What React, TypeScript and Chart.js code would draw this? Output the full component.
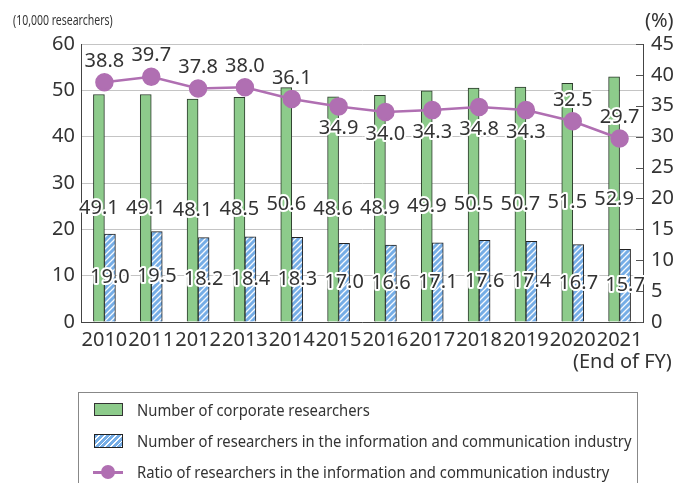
import React, { useEffect, useRef } from "react";
import { Chart, registerables } from "chart.js";

Chart.register(...registerables);

const years = ["2010", "2011", "2012", "2013", "2014", "2015", "2016", "2017", "2018", "2019", "2020", "2021"];
const corporateResearchers = [49.1, 49.1, 48.1, 48.5, 50.6, 48.6, 48.9, 49.9, 50.5, 50.7, 51.5, 52.9];
const ictResearchers = [19.0, 19.5, 18.2, 18.4, 18.3, 17.0, 16.6, 17.1, 17.6, 17.4, 16.7, 15.7];
const ictRatio = [38.8, 39.7, 37.8, 38.0, 36.1, 34.9, 34.0, 34.3, 34.8, 34.3, 32.5, 29.7];
const ratioLabelBelow = [false, false, false, false, false, true, true, true, true, true, false, false];

const GREEN = "#8dcb8b";
const BLUE = "#75ade6";
const PURPLE = "#b06fb2";
const TEXT = "#333333";
const FONT = "'Noto Sans', sans-serif";

function makeHatch(): CanvasPattern | string {
  const c = document.createElement("canvas");
  c.width = 6;
  c.height = 6;
  const g = c.getContext("2d");
  if (!g) return BLUE;
  g.fillStyle = BLUE;
  g.fillRect(0, 0, 6, 6);
  g.strokeStyle = "rgba(255,255,255,0.95)";
  g.lineWidth = 1.3;
  g.beginPath();
  g.moveTo(-1, 7);
  g.lineTo(7, -1);
  g.moveTo(-4, 4);
  g.lineTo(4, -4);
  g.moveTo(2, 10);
  g.lineTo(10, 2);
  g.stroke();
  const p = g.createPattern(c, "repeat");
  return p || BLUE;
}

const labelPlugin = {
  id: "valueLabels",
  afterDatasetsDraw(chart: any) {
    const ctx = chart.ctx;
    ctx.save();
    ctx.font = `20px ${FONT}`;
    ctx.textAlign = "center";
    ctx.textBaseline = "middle";
    ctx.lineJoin = "round";
    ctx.lineWidth = 4;
    ctx.strokeStyle = "#ffffff";
    ctx.fillStyle = TEXT;
    chart.data.datasets.forEach((ds: any, di: number) => {
      const meta = chart.getDatasetMeta(di);
      meta.data.forEach((el: any, i: number) => {
        const v = ds.data[i];
        const txt = v.toFixed(1);
        const x = el.x;
        let y: number;
        if (ds.type === "line") {
          y = ratioLabelBelow[i] ? el.y + 22 : el.y - 21;
        } else {
          y = (el.y + el.base) / 2;
        }
        ctx.strokeText(txt, x, y);
        ctx.fillText(txt, x, y);
      });
    });
    ctx.restore();
  },
};

const rightTicksPlugin = {
  id: "rightTicks",
  afterDraw(chart: any) {
    const s = chart.scales.y1;
    const ctx = chart.ctx;
    ctx.save();
    ctx.strokeStyle = "#555";
    ctx.lineWidth = 1;
    s.ticks.forEach((t: any) => {
      const y = Math.round(s.getPixelForValue(t.value)) + 0.5;
      ctx.beginPath();
      ctx.moveTo(s.left - 7, y);
      ctx.lineTo(s.left, y);
      ctx.stroke();
    });
    ctx.restore();
  },
};

export default function App() {
  const ref = useRef<HTMLCanvasElement>(null);

  useEffect(() => {
    if (!ref.current) return;
    const hatch = makeHatch();
    const chart = new Chart(ref.current, {
      data: {
        labels: years,
        datasets: [
          {
            type: "line" as const,
            label: "Ratio of researchers in the information and communication industry",
            data: ictRatio,
            yAxisID: "y1",
            borderColor: PURPLE,
            backgroundColor: PURPLE,
            borderWidth: 2.5,
            pointRadius: 8,
            pointBackgroundColor: PURPLE,
            pointBorderColor: PURPLE,
            order: 0,
          },
          {
            type: "bar" as const,
            label: "Number of corporate researchers",
            data: corporateResearchers,
            yAxisID: "y",
            backgroundColor: GREEN,
            borderColor: "#2b3a2b",
            borderWidth: 1,
            barThickness: 11,
            categoryPercentage: 0.58,
            order: 1,
          },
          {
            type: "bar" as const,
            label: "Number of researchers in the information and communication industry",
            data: ictResearchers,
            yAxisID: "y",
            backgroundColor: hatch as any,
            borderColor: "#222",
            borderWidth: 1,
            barThickness: 11,
            categoryPercentage: 0.58,
            order: 1,
          },
        ],
      },
      options: {
        animation: false,
        responsive: false,
        layout: { padding: { top: 44, left: 0, right: 0, bottom: 0 } },
        plugins: { legend: { display: false }, tooltip: { enabled: false } },
        scales: {
          x: {
            grid: { display: false, drawTicks: false },
            border: { color: "#444", width: 1 },
            ticks: { color: TEXT, font: { family: FONT, size: 20 }, padding: 6, maxRotation: 0, autoSkip: false },
            afterFit(s: any) {
              s.height = 161;
            },
          },
          y: {
            position: "left",
            min: 0,
            max: 60,
            ticks: { stepSize: 10, color: TEXT, font: { family: FONT, size: 20 }, padding: 6 },
            grid: { color: "#c4c4c4", drawTicks: false },
            border: { color: "#444", width: 1 },
            afterFit(s: any) {
              s.width = 81;
            },
          },
          y1: {
            position: "right",
            min: 0,
            max: 45,
            ticks: { stepSize: 5, color: TEXT, font: { family: FONT, size: 20 }, padding: 8 },
            grid: { display: false, drawTicks: false },
            border: { color: "#444", width: 1 },
            afterFit(s: any) {
              s.width = 36;
            },
          },
        },
      },
      plugins: [labelPlugin, rightTicksPlugin],
    } as any);
    return () => chart.destroy();
  }, []);

  const textStyle: React.CSSProperties = {
    position: "absolute",
    fontFamily: FONT,
    color: TEXT,
    whiteSpace: "nowrap",
    lineHeight: 1,
  };
  const legendText: React.CSSProperties = {
    ...textStyle,
    left: 137,
    fontSize: 17,
    transform: "scaleX(0.87)",
    transformOrigin: "left center",
  };

  return (
    <div style={{ position: "fixed", left: 0, top: 0, width: 679, height: 483, overflow: "hidden", background: "#fff" }}>
      <canvas ref={ref} width={679} height={483} style={{ position: "absolute", left: 0, top: 0 }} />
      <div style={{ ...textStyle, left: 13, top: 12, fontSize: 15, transform: "scaleX(0.7)", transformOrigin: "left center" }}>
        (10,000 researchers)
      </div>
      <div style={{ ...textStyle, left: 645, top: 10, fontSize: 20 }}>(%)</div>
      <div style={{ ...textStyle, left: 573, top: 351, fontSize: 20 }}>(End of FY)</div>
      <div
        style={{
          position: "absolute",
          left: 78,
          top: 392,
          width: 558,
          height: 120,
          border: "1px solid #888",
        }}
      />
      <div style={{ position: "absolute", left: 94, top: 403, width: 27, height: 11, background: GREEN, border: "1px solid #333" }} />
      <div style={{ ...legendText, top: 401 }}>Number of corporate researchers</div>
      <div
        style={{
          position: "absolute",
          left: 94,
          top: 434,
          width: 27,
          height: 12,
          border: "1px solid #222",
          background: `repeating-linear-gradient(135deg, ${BLUE} 0px, ${BLUE} 2.8px, #ffffff 2.8px, #ffffff 4px)`,
        }}
      />
      <div style={{ ...legendText, top: 432 }}>Number of researchers in the information and communication industry</div>
      <div style={{ position: "absolute", left: 93, top: 471, width: 30, height: 2.5, background: PURPLE }} />
      <div style={{ position: "absolute", left: 101, top: 465, width: 14, height: 14, borderRadius: 7, background: PURPLE }} />
      <div style={{ ...legendText, top: 463 }}>Ratio of researchers in the information and communication industry</div>
    </div>
  );
}
